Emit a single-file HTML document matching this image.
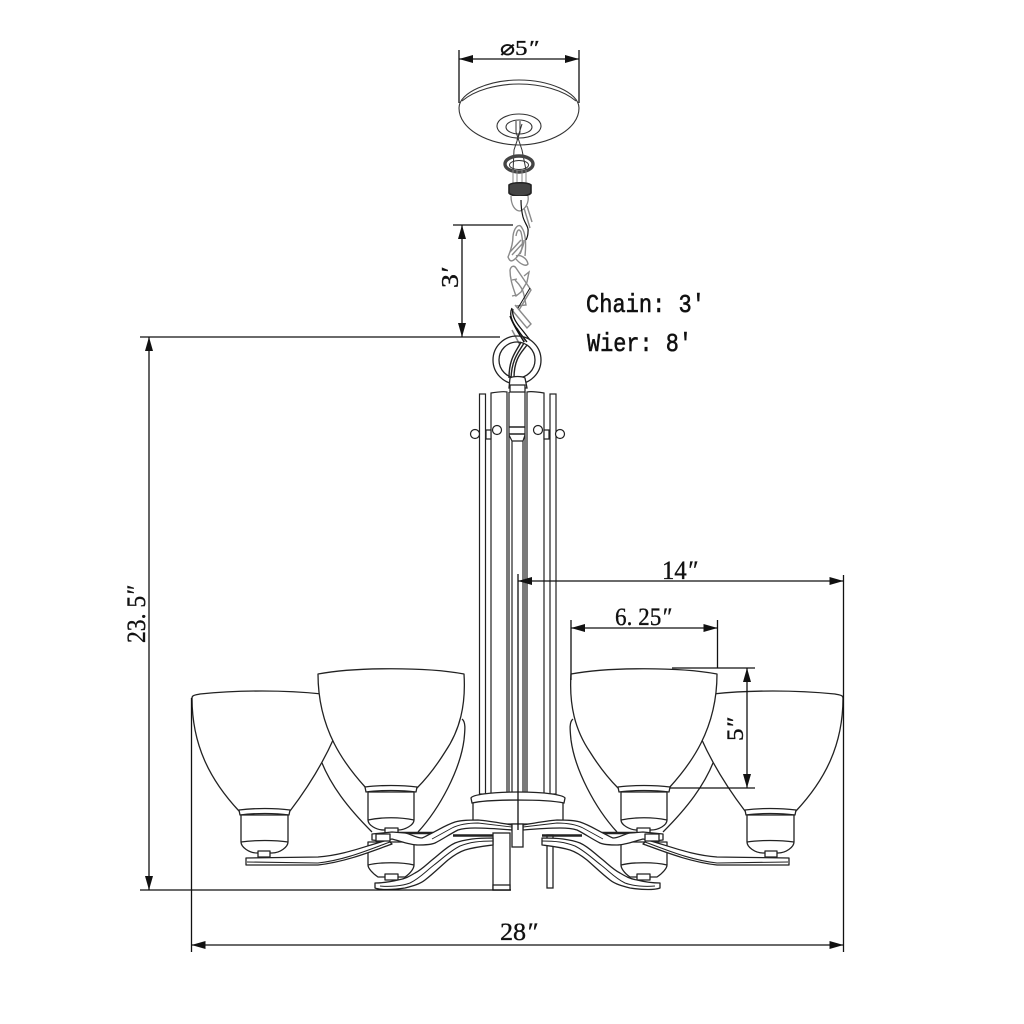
<!DOCTYPE html>
<html><head><meta charset="utf-8"><style>
html,body{margin:0;padding:0;background:#fff}
svg{display:block}
text{font-family:"Liberation Serif",serif;fill:#111;stroke:#111;stroke-width:.35}
.m{font-family:"Liberation Mono",monospace;stroke-width:.55}
</style></head><body>
<svg width="1024" height="1024" viewBox="0 0 1024 1024" xmlns="http://www.w3.org/2000/svg">
<defs>
<g id="side" fill="#fff" stroke="#222" stroke-width="1.3" stroke-linejoin="round">
  <!-- rear shade -->
  <path d="M462,719 C466,722 465,730 464,740 C460,770 440,808 418,832 L372,832 C348,808 330,785 318,755 Z" stroke="none"/>
  <path d="M462,719 C466,722 465,730 464,740 C460,770 440,808 418,832 M372,832 C348,808 330,785 320,758" fill="none"/>
  <!-- rear socket -->
  <path d="M368,842 V865 C368,868 372,873 378,877 H405 C411,873 414,868 414,865 V842 Z"/>
  <path d="M368,865 C380,862 402,862 414,865" fill="none"/>
  <rect x="385" y="874" width="13" height="6"/>
  <!-- outer shade -->
  <path d="M192,698 C192,695 196,695 200,694 C240,690 285,690 322,694 L334,738 C322,765 306,790 290,811 H239 C210,780 192,745 192,698 Z"/>
  <path d="M239,810 C255,808 275,808 290,810 L289,815 C275,813 255,813 240,815 Z"/>
  <path d="M241,815 H288 V842 C288,847 280,853 272,853 H257 C249,853 241,847 241,842 Z"/>
  <path d="M241,842 C255,840 275,840 288,842" fill="none"/>
  <rect x="258" y="851" width="12" height="6"/>
  <!-- outer arm -->
  <path d="M246,858 L318,857 C345,855 365,846 388,840 L392,844 C370,852 345,862 318,865 L246,865 Z"/>
  <path d="M247,862 L318,863 C345,860 368,850 390,842" fill="none" stroke-width="1.1"/>
  <!-- rear strip -->
  <path d="M398,833 H440 M453,835.500 H493" fill="none" stroke-width="2.4"/>
  <!-- lower arm -->
  <path d="M493,838 C485,838 480,838 472,839 C465,840 460,841 455,843 C446,847 440,854 432,860 C426,865 421,870 415,873 C410,876 405,879 398,880 C390,882 382,883 375,883 L375,888 C380,890 392,890 405,888 C413,886 420,884 425,880 C433,874 441,866 448,860 C453,856 459,852 465,850 C475,847 485,846 493,845 Z"/>
  <path d="M493,841 C480,841 470,842 460,846 C450,851 442,859 434,865 C425,872 420,878 410,883 C402,886 390,887 380,886" fill="none" stroke-width="1"/>
  <!-- front shade -->
  <path d="M318,674 C355,667 427,667 464,674 C466,705 460,730 445,752 C435,768 425,780 417,788 H366 C345,765 318,730 318,674 Z"/>
  <path d="M365,787 C380,785 402,785 417,787 L416,792 C402,790 380,790 366,792 Z"/>
  <path d="M368,792 H414 V820 C414,825 405,830 398,830 H384 C376,830 368,825 368,820 Z"/>
  <path d="M368,820 C382,817 400,817 414,820" fill="none"/>
  <rect x="385" y="828" width="13" height="5"/>
  <!-- upper wave arm -->
  <path d="M512,825 C500,823 490,821 478,820 C470,820 462,820 455,822 C446,825 440,829 432,833 C428,835 425,837 422,838 C416,838 411,834 405,833 L392,832 L372,834 V840 L382,841 L392,839 C400,841 410,845 418,845 C424,845 430,845 435,843 C443,839 450,834 458,830 C464,828 470,828 475,828 C488,828 500,829 512,830 Z"/>
  <path d="M512,827 L478,823 C468,823 460,824 452,828 L432,839" fill="none" stroke-width=".9"/>
  <path d="M376,834 H390 V841 H376 Z"/>
</g>
<marker id="a" viewBox="0 0 14 8" refX="14" refY="4" markerWidth="14" markerHeight="8" markerUnits="userSpaceOnUse" orient="auto-start-reverse"><path d="M0,0 L14,4 L0,8 Z" fill="#111"/></marker>
</defs>

<!-- canopy -->
<g fill="#fff" stroke="#333" stroke-width="1.1">
  <path d="M459,108 C459,92 490,80 519,80 C548,80 579,92 579,108 C579,130 548,145 519,145 C490,145 459,130 459,108 Z"/>
  <path d="M462,101 C475,90 497,84 519,84 C541,84 563,90 576,101" fill="none"/>
  <ellipse cx="519" cy="126" rx="22" ry="12"/>
  <ellipse cx="519" cy="127" rx="13" ry="7"/>
</g>
<!-- chain and wires -->
<g fill="none" stroke="#333" stroke-width="1">
  <path d="M516,121 V132 L522,150 L526,170"/><path d="M520,121 V132 L514,150 L513,172"/><path d="M522,124 L517,140"/>
  <ellipse cx="519" cy="164" rx="14" ry="8" stroke="#444" stroke-width="3.400"/>
  <ellipse cx="519" cy="165" rx="9.500" ry="4.500" stroke-width="1"/>
  <path d="M513,170 V184 M517,170 V184 M522,170 V184 M526,170 V184" stroke="#888"/>
  <path d="M509,185 C512,182 528,182 531,185 L531,193 C528,197 512,197 509,193 Z" fill="#444" stroke="#222" stroke-width="1.6"/>
  <path d="M511,196 C511,205 515,211 520,211 C526,209 529,202 528,196" fill="#fff" stroke="#888" stroke-width="1.3"/>
  <!-- link 1 -->
  <g stroke="#8a8a8a" stroke-width="1.4">
    <path d="M524,208 L530,228 M527,206 L532,222"/>
    <path d="M513,236 C514,228 519,222 522,228 C526,234 526,246 525,256"/>
    <path d="M516,236 C517,230 519,228 521,232 C523,240 523,248 520,254"/>
    <path d="M513,236 C513,244 511,250 508,257 C510,262 512,262 516,258 C520,254 524,246 524,240"/>
    <path d="M510,252 L521,240 M512,255 L523,243"/>
    <path d="M516,256 C520,254 527,258 528,264 C526,267 520,264 516,259"/>
    <!-- link 2 -->
    <path d="M510,270 C511,266 514,265 516,268 L531,290 L519,310"/>
    <path d="M510,270 C510,278 512,285 516,296 L521,292 L527,282 L529,272 L524,276"/>
    <path d="M515,280 C519,284 523,289 524,295 L526,305 L516,306"/>
    <path d="M512,280 L517,279 M512,296 L517,295"/>
    <!-- link 3 bars -->
    <path d="M515,305 L531,324 L527,328 L512,310"/>
    <path d="M512,330 L520,345 M517,328 L525,342" stroke-width="1.5"/>
  </g>
  <path d="M521,200 C521,208 522,213 523,217 C525,224 529,227 528,232 C528,236 527,238 526,240" stroke="#111" stroke-width="1.2"/>
  <path d="M530,288 L518,308" stroke="#111" stroke-width="1"/>
  <path d="M512,308 C508,316 514,325 520,333 L527,342 M513,309 C511,316 517,324 523,331 L530,340 M510,316 C513,325 518,332 524,342" stroke="#111" stroke-width="1.3"/>
</g>
<!-- ring -->
<g fill="none" stroke="#222" stroke-width="1.3">
  <circle cx="517" cy="360" r="24"/><circle cx="517" cy="360" r="18"/>
  <path d="M527,345 C522,352 514,358 514,378 M524,343 C519,352 512,358 511,378 M521,342 C516,352 509,358 509,378" stroke-width="1.4"/>
  <path d="M510,378 C513,376 522,376 525,378 L527,388 H509 Z" fill="#fff"/>
  <path d="M510,385 H525 V392 H510 Z" fill="#fff"/>
</g>
<!-- tube bars -->
<g fill="#fff" stroke="#222" stroke-width="1.2">
  <rect x="479.500" y="394" width="6" height="400"/>
  <rect x="550" y="394" width="6" height="400"/>
  <path d="M491,393 C500,391.500 505,391.500 507,392 V794 H491 Z"/>
  <path d="M544,393 C535,391.500 529,391.500 527,392 V794 H544 Z"/>
  <path d="M509,392 V794 M525,392 V794" fill="none"/>
  <path d="M509,427 H525 M509,434 H525" fill="none" stroke-width="1.4"/>
  <path d="M512,441 V794 M523,441 V794 M509,435 L512,441 H523 L525,435" fill="none"/>
  <circle cx="475" cy="434" r="4.500"/><circle cx="497" cy="430" r="4.500"/>
  <circle cx="538" cy="430" r="4.500"/><circle cx="560" cy="434" r="4.500"/>
  <path d="M486,430 H491 V439 H486 Z M544,430 H549 V439 H544 Z" fill="#fff"/>
</g>
<!-- base -->
<g fill="#fff" stroke="#222" stroke-width="1.3">
  <path d="M473,800 V824 H563 V800 Z"/>
  <path d="M471,798 C472,795 490,792 518,792 C546,792 563,795 565,798 L564,803 C545,799 490,799 472,803 Z"/>
</g>
<!-- legs & block -->
<g fill="#fff" stroke="#222" stroke-width="1.3">
  <rect x="493" y="833" width="17" height="57"/>
  <rect x="493" y="885" width="17" height="5"/>
  <rect x="547" y="835" width="6" height="53"/>
</g>
<!-- sides -->
<use href="#side"/>
<use href="#side" transform="translate(1035,0) scale(-1,1)"/>
<g fill="#fff" stroke="#222" stroke-width="1.3"><rect x="512" y="824" width="11" height="23"/></g>

<!-- dimensions -->
<g stroke="#111" stroke-width="1.3" fill="none">
  <path d="M459,50 V103 M579,50 V103"/>
  <path d="M459,59 H579" marker-start="url(#a)" marker-end="url(#a)"/>
  <path d="M453,225 H513"/>
  <path d="M462,225 V337" marker-start="url(#a)" marker-end="url(#a)"/>
  <path d="M140,337 H500"/>
  <path d="M149,337 V890" marker-start="url(#a)" marker-end="url(#a)"/>
  <path d="M140,890 H511"/>
  <path d="M191.500,698 V952 M843.500,575 V952"/>
  <path d="M191.500,945 H843.500" marker-start="url(#a)" marker-end="url(#a)"/>
  <path d="M518,581 H843.500" marker-start="url(#a)" marker-end="url(#a)"/>
  <path d="M518,574 V830"/>
  <path d="M571,620 V680 M717.500,620 V668"/>
  <path d="M571,628 H717.500" marker-start="url(#a)" marker-end="url(#a)"/>
  <path d="M672,668 H755 M670,788 H755"/>
  <path d="M747,668 V788" marker-start="url(#a)" marker-end="url(#a)"/>
</g>

<!-- labels -->
<text x="500" y="55" font-size="21" textLength="38" lengthAdjust="spacingAndGlyphs">⌀5<tspan font-style="italic">″</tspan></text>
<text x="662" y="579" font-size="26" textLength="35" lengthAdjust="spacingAndGlyphs">14<tspan font-style="italic">″</tspan></text>
<text x="615" y="625" font-size="25" textLength="56" lengthAdjust="spacingAndGlyphs">6. 25<tspan font-style="italic">″</tspan></text>
<text x="500" y="940" font-size="25" textLength="37" lengthAdjust="spacingAndGlyphs">28<tspan font-style="italic">″</tspan></text>
<text transform="translate(145,643) rotate(-90)" font-size="26" textLength="57" lengthAdjust="spacingAndGlyphs">23. 5<tspan font-style="italic">″</tspan></text>
<text transform="translate(743,741) rotate(-90)" font-size="23" textLength="23" lengthAdjust="spacingAndGlyphs">5<tspan font-style="italic">″</tspan></text>
<text transform="translate(458,288) rotate(-90)" font-size="24" textLength="20" lengthAdjust="spacingAndGlyphs">3<tspan font-style="italic">′</tspan></text>
<text class="m" x="586" y="312" font-size="26" textLength="119" lengthAdjust="spacingAndGlyphs">Chain: 3′</text>
<text class="m" x="587" y="351" font-size="26" textLength="105" lengthAdjust="spacingAndGlyphs">Wier: 8′</text>
</svg>
</body></html>
